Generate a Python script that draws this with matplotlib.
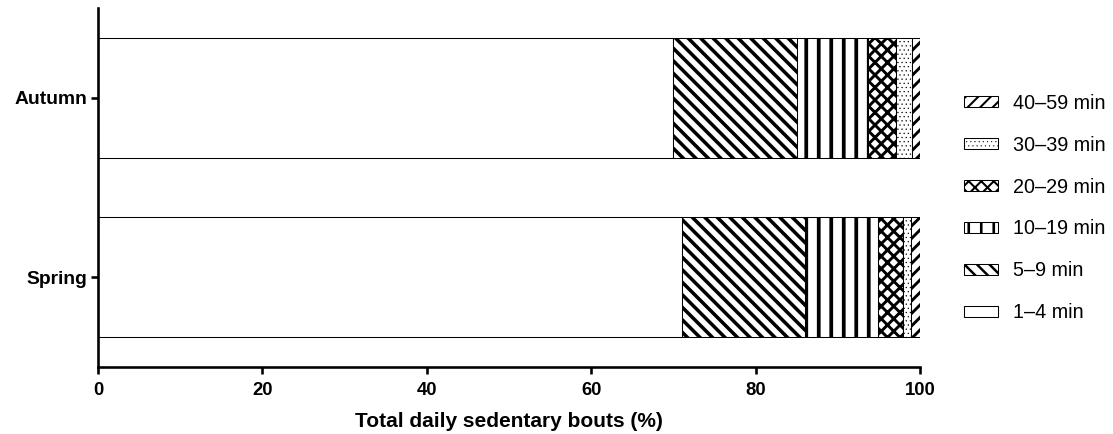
import matplotlib as mpl
import matplotlib.pyplot as plt
import numpy as np

plt.rcParams['font.family'] = ['Liberation Sans', 'DejaVu Sans']

seasons = ['Spring', 'Autumn']
bout_labels = ['1–4 min', '5–9 min', '10–19 min', '20–29 min', '30–39 min', '40–59 min']
spring = [71.0, 15.0, 8.85, 3.05, 1.0, 1.1]
autumn = [70.0, 15.0, 8.7, 3.4, 1.9, 1.0]

hatches = ['', '\\\\', '|', 'xx', '...', '//']
hatch_lw = [1.0, 3.4, 3.6, 2.8, 0.5, 2.8]

DPI = 75
fig = plt.figure(figsize=(1113 / DPI, 434 / DPI), dpi=DPI)
ax = fig.add_axes([98 / 1113, 1 - 367 / 434, (920 - 98) / 1113, (367 - 8) / 434])

data = np.array([spring, autumn])
left = np.zeros(len(seasons))
for i, lab in enumerate(bout_labels):
    with mpl.rc_context({'hatch.linewidth': hatch_lw[i]}):
        bars = ax.barh(seasons, data[:, i], left=left, height=0.667,
                       color='white', edgecolor='black', linewidth=1.0,
                       hatch=hatches[i], label=lab)
    for p in bars:
        if hasattr(p, 'set_hatch_linewidth'):
            p.set_hatch_linewidth(hatch_lw[i])
    left += data[:, i]

ax.set_xlim(0, 100)
ax.set_ylim(-0.5, 1.5)
ax.set_xticks(np.arange(0, 101, 20))
for s in ['top', 'right']:
    ax.spines[s].set_visible(False)
for s in ['left', 'bottom']:
    ax.spines[s].set_linewidth(2.5)
ax.tick_params(axis='both', width=2.5, length=6.7, direction='out')
ax.tick_params(axis='y', pad=3.5, labelsize=18.5)
ax.tick_params(axis='x', pad=8, labelsize=17.8)
for t in ax.get_xticklabels() + ax.get_yticklabels():
    t.set_fontweight('bold')
ax.set_xlabel('Total daily sedentary bouts (%)', fontsize=20, fontweight='bold', labelpad=12)

handles, labels = ax.get_legend_handles_labels()
leg = fig.legend(handles[::-1], labels[::-1], loc='center left',
                 bbox_to_anchor=(964 / 1113, 1 - 208 / 434), frameon=False,
                 fontsize=19, handlelength=1.7, handleheight=0.5,
                 handletextpad=0.8, labelspacing=1.16, borderpad=0, borderaxespad=0)
for h, lw in zip(leg.legend_handles, hatch_lw[::-1]):
    if hasattr(h, 'set_hatch_linewidth'):
        h.set_hatch_linewidth(lw * 0.7)

fig.savefig('out.png', dpi=DPI)
